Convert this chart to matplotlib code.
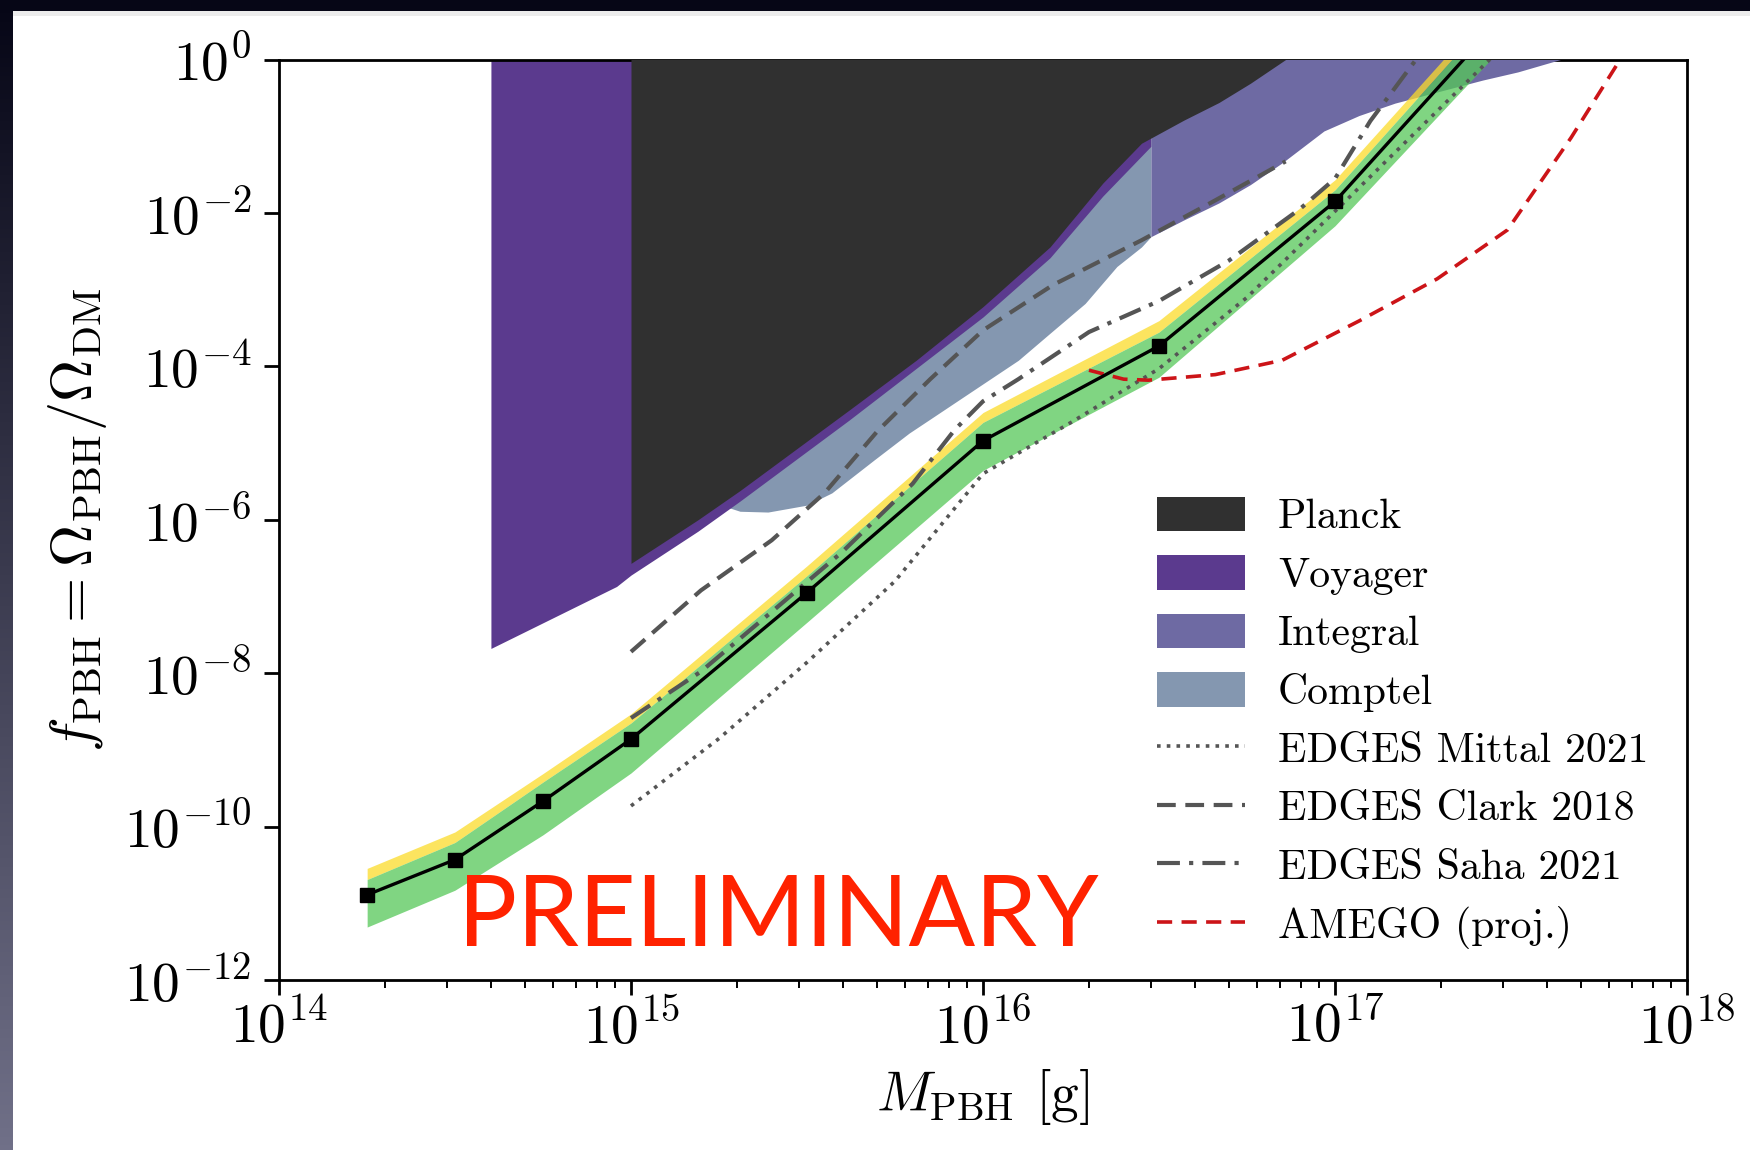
import numpy as np
import matplotlib
matplotlib.use("Agg")
import matplotlib.pyplot as plt
from matplotlib.patches import Patch, Rectangle
from matplotlib.lines import Line2D
from matplotlib.ticker import FixedLocator, NullLocator, LogLocator, NullFormatter

plt.rcParams.update({
    "font.family": "serif",
    "font.serif": ["cmr10"],
    "mathtext.fontset": "cm",
    "axes.formatter.use_mathtext": True,
})

# ---------------- data ----------------
# projected sensitivity (black line) with its bands
m_proj = [1.78e14, 3.16e14, 5.62e14, 1e15, 3.16e15, 1e16, 3.16e16, 1e17, 3.16e17]
f_proj = [1.29e-11, 3.7e-11, 2.14e-10, 1.38e-9, 1.12e-7, 1.07e-5, 1.84e-4, 1.41e-2, 4.8]
f_green_lo = [4.9e-12, 1.48e-11, 7.8e-11, 5.0e-10, 4.6e-8, 4.4e-6, 7.2e-5, 6.8e-3, 1.9]
f_green_hi = [2.04e-11, 6.2e-11, 3.8e-10, 2.24e-9, 1.86e-7, 1.86e-5, 2.79e-4, 2.0e-2, 7.2]
f_yellow_hi = [2.85e-11, 8.5e-11, 4.9e-10, 2.95e-9, 2.5e-7, 2.5e-5, 3.94e-4, 2.7e-2, 9.5]

# Planck exclusion (lower boundary)
m_planck = [1e15, 1.55e15, 2.04e15, 4.17e15, 6.46e15, 1e16, 1.55e16, 2.19e16,
            2.82e16, 3.72e16, 4.68e16, 5.75e16, 7.24e16]
f_planck = [2.7e-7, 1.0e-6, 2.4e-6, 2.7e-5, 1.2e-4, 6.0e-4, 3.6e-3, 2.45e-2,
            8.1e-2, 0.162, 0.275, 0.49, 1.0]

# Voyager exclusion (lower boundary)
m_voyager = [4.0e14, 9.1e14, 1e15, 1.55e15, 2.04e15, 4.17e15, 1e16, 1.55e16, 2.19e16, 3.0e16]
f_voyager = [2.1e-8, 1.35e-7, 1.9e-7, 7.1e-7, 1.75e-6, 2.0e-5, 4.4e-4, 2.6e-3, 1.66e-2, 7.4e-2]

# Comptel exclusion (lower boundary)
m_comptel = [1.78e15, 2.04e15, 2.45e15, 3.16e15, 3.72e15, 4.9e15, 6.17e15, 7.24e15,
             1.26e16, 1.55e16, 1.95e16, 2.4e16, 2.82e16, 3.0e16]
f_comptel = [1.58e-6, 1.29e-6, 1.26e-6, 1.55e-6, 2.24e-6, 6.0e-6, 1.35e-5, 2.2e-5,
             1.2e-4, 2.7e-4, 6.6e-4, 2.0e-3, 3.6e-3, 4.9e-3]

# Integral exclusion (lower boundary)
m_integral = [3.0e16, 3.72e16, 4.68e16, 5.75e16, 7.08e16, 9.3e16, 1.17e17, 1.48e17,
              2.09e17, 2.63e17, 3.31e17, 4.37e17]
f_integral = [4.9e-3, 8.1e-3, 1.35e-2, 2.34e-2, 4.5e-2, 0.117, 0.186, 0.27,
              0.41, 0.54, 0.69, 1.0]

# EDGES bounds
m_mittal = [1e15, 1.78e15, 3.16e15, 5.62e15, 1e16, 1.78e16, 3.16e16, 5.62e16, 1e17, 1.78e17, 3.16e17]
f_mittal = [1.86e-10, 1.41e-9, 1.38e-8, 1.58e-7, 3.98e-6, 1.86e-5, 9.3e-5, 7.9e-4, 1.05e-2, 0.141, 1.86]

m_clark = [1e15, 1.58e15, 2.51e15, 3.55e15, 5.0e15, 7.08e15, 1e16, 1.58e16, 2.82e16, 4.47e16, 7.24e16]
f_clark = [1.9e-8, 1.2e-7, 5.4e-7, 2.24e-6, 1.41e-5, 6.8e-5, 2.95e-4, 1.15e-3, 4.4e-3, 1.38e-2, 4.7e-2]

m_saha = [1e15, 1.58e15, 2.51e15, 3.98e15, 6.31e15, 8.3e15, 1e16, 1.26e16, 2.0e16,
          3.16e16, 5.0e16, 7.94e16, 1e17, 1.26e17, 1.7e17]
f_saha = [2.6e-9, 1.05e-8, 6.3e-8, 3.8e-7, 2.95e-6, 1.48e-5, 3.5e-5, 6.8e-5, 2.8e-4,
          7.1e-4, 2.4e-3, 1.12e-2, 2.8e-2, 0.158, 1.0]

# AMEGO projection
m_amego = [2.0e16, 2.51e16, 2.95e16, 4.57e16, 7.08e16, 1.17e17, 1.95e17, 3.09e17, 4.68e17, 6.46e17]
f_amego = [8.9e-5, 6.8e-5, 6.6e-5, 7.8e-5, 1.2e-4, 3.9e-4, 1.38e-3, 6.0e-3, 9.5e-2, 1.0]

y_ticks = [1e-12, 1e-10, 1e-8, 1e-6, 1e-4, 1e-2, 1e0]

# ---------------- colours ----------------
c_planck = "#303030"
c_voyager = "#5b3a8e"
c_integral = "#6e6aa3"
c_comptel = "#8497b0"
c_green = "#55c858"
c_yellow = "#fbdc2a"
c_edges = "#555555"
c_amego = "#cc1418"

# ---------------- figure ----------------
fig = plt.figure(figsize=(17.5, 11.5), dpi=100)

# slide background behind the white panel
bg = fig.add_axes([0, 0, 1, 1], zorder=-10)
bg.set_axis_off()
t = np.linspace(0, 1, 256)[:, None]
top_c = np.array([6, 6, 22]) / 255.0
bot_c = np.array([112, 112, 136]) / 255.0
grad = top_c * (1 - t) + bot_c * t
bg.imshow(np.repeat(grad[:, None, :], 2, axis=1), extent=[0, 1, 0, 1],
          aspect="auto", origin="upper")
bg.add_patch(Rectangle((13 / 1750, 0), 1, 1 - 11 / 1150, facecolor="white",
                       edgecolor="none"))
bg.add_patch(Rectangle((13 / 1750, 1 - 16 / 1150), 1, 5 / 1150, facecolor="#ececec",
                       edgecolor="none"))
bg.set_xlim(0, 1)
bg.set_ylim(0, 1)

ax = fig.add_axes([279 / 1750, 1 - 980 / 1150, 1408 / 1750, 920.5 / 1150])
ax.set_xscale("log")
ax.set_yscale("log")

top = 10.0
ax.fill_between(m_comptel, f_comptel, top, color=c_comptel, lw=0, zorder=1)
ax.fill_between(m_voyager, f_voyager, top, color=c_voyager, lw=0, zorder=2)
ax.fill_between(m_integral, f_integral, top, color=c_integral, lw=0, zorder=3)
ax.fill_between(m_planck, f_planck, top, color=c_planck, lw=0, zorder=4)

ax.fill_between(m_proj, f_green_hi, f_yellow_hi, color=c_yellow, alpha=0.75, lw=0, zorder=5)
ax.fill_between(m_proj, f_green_lo, f_green_hi, color=c_green, alpha=0.75, lw=0, zorder=6)

ax.plot(m_mittal, f_mittal, color=c_edges, lw=2.6, ls=(0, (1, 1.7)), zorder=7)
ax.plot(m_clark, f_clark, color=c_edges, lw=3.0, ls=(0, (4.5, 2.3)), zorder=7)
ax.plot(m_saha, f_saha, color=c_edges, lw=3.0, ls=(0, (5.5, 2.2, 1, 2.2)), zorder=7)
ax.plot(m_amego, f_amego, color=c_amego, lw=2.6, ls=(0, (4.2, 2.6)), zorder=7)

ax.plot(m_proj, f_proj, color="black", lw=2.4, marker="s", ms=10, zorder=8)

ax.set_xlim(1e14, 1e18)
ax.set_ylim(1e-12, 1e0)

ax.yaxis.set_major_locator(FixedLocator(y_ticks))
ax.yaxis.set_minor_locator(NullLocator())
ax.xaxis.set_major_locator(LogLocator(base=10, numticks=10))
ax.xaxis.set_minor_locator(LogLocator(base=10, subs=np.arange(2, 10), numticks=20))
ax.xaxis.set_minor_formatter(NullFormatter())

ax.tick_params(which="major", direction="out", length=11, width=2, labelsize=40,
               top=False, right=False)
ax.tick_params(which="minor", direction="out", length=6, width=1.4,
               top=False, right=False)
ax.tick_params(axis="y", which="major", pad=9)
ax.tick_params(axis="x", which="major", pad=3)
for s in ax.spines.values():
    s.set_linewidth(2.0)

ax.set_xlabel(r"$M_{\rm PBH}$ [g]", fontsize=40)
ax.set_ylabel(r"$f_{\rm PBH} = \Omega_{\rm PBH}/\Omega_{\rm DM}$", fontsize=42)
ax.xaxis.set_label_coords(0.5, -0.095)
ax.yaxis.set_label_coords(-0.121, 0.5)

handles = [
    Patch(facecolor=c_planck, edgecolor="none", label="Planck"),
    Patch(facecolor=c_voyager, edgecolor="none", label="Voyager"),
    Patch(facecolor=c_integral, edgecolor="none", label="Integral"),
    Patch(facecolor=c_comptel, edgecolor="none", label="Comptel"),
    Line2D([], [], color=c_edges, lw=2.6, ls=(0, (1, 1.7)), label="EDGES Mittal 2021"),
    Line2D([], [], color=c_edges, lw=3.0, ls=(0, (4.5, 2.3)), label="EDGES Clark 2018"),
    Line2D([], [], color=c_edges, lw=3.0, ls=(0, (5.5, 2.2, 1, 2.2)), label="EDGES Saha 2021"),
    Line2D([], [], color=c_amego, lw=2.6, ls=(0, (4.2, 2.6)), label="AMEGO (proj.)"),
]
ax.legend(handles=handles, loc="upper left", bbox_to_anchor=(0.6236, 0.525),
          frameon=False, fontsize=30, handlelength=2.1, handleheight=0.9,
          handletextpad=0.8, labelspacing=0.45, borderaxespad=0, borderpad=0)

ax.text(0.127, 0.037, "PRELIMINARY", transform=ax.transAxes, fontsize=71,
        family="Lato", color="#ff2200", ha="left", va="baseline", zorder=20)

fig.savefig("out.png", dpi=100)
